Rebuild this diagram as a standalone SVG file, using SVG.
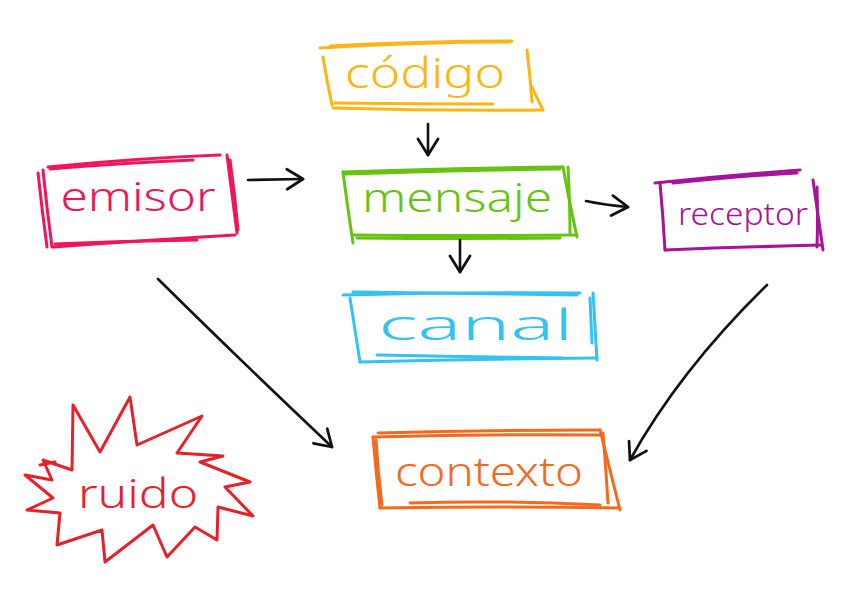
<svg xmlns="http://www.w3.org/2000/svg" width="848" height="599" viewBox="0 0 848 599">
<defs>
<marker id="ah" markerUnits="userSpaceOnUse" viewBox="0 0 20 24" markerWidth="20" markerHeight="24" refX="18" refY="12" orient="auto">
<path d="M2,2 L18,12 L2,22" fill="none" stroke="#111" stroke-width="2.8" stroke-linecap="round" stroke-linejoin="round"/>
</marker>
</defs>
<style>
.sk{fill:none;stroke-width:3;stroke-linecap:round;stroke-linejoin:round}
.lbl{font-family:"Noto Sans","DejaVu Sans",sans-serif;font-weight:300;text-anchor:middle}
.cn{fill:none;stroke:#111;stroke-width:2.6;stroke-linecap:round}
</style>
<rect width="848" height="599" fill="#fff"/>

<g id="codigo">
<g class="sk" stroke="#FDB515">
<path d="M320,48 Q420,42 510,42"/>
<path d="M330,46 Q430,41 512,41"/>
<path d="M323,57 Q327,82 332,105"/>
<path d="M527,50 Q530,75 532,102"/>
<path d="M532,87 Q537,98 543,110"/>
<path d="M333,108 Q440,111 543,110"/>
<path d="M335,103 Q415,104 493,104"/>
</g>
<text class="lbl" x="425" y="88" font-size="42" fill="#FDB515" textLength="160" lengthAdjust="spacingAndGlyphs">código</text>
</g>

<g id="emisor">
<g class="sk" stroke="#F0145A">
<path d="M48,167 Q140,158 220,155"/>
<path d="M50,169 Q120,163 193,160"/>
<path d="M38,173 Q42,210 47,247"/>
<path d="M43,170 Q47,210 52,247"/>
<path d="M227,155 Q232,195 237,233"/>
<path d="M230,160 Q235,195 238,230"/>
<path d="M53,247 Q150,240 235,235"/>
<path d="M55,244 Q120,241 197,240"/>
</g>
<text class="lbl" x="138" y="211" font-size="40" fill="#F0145A" textLength="155" lengthAdjust="spacingAndGlyphs">emisor</text>
</g>

<g id="mensaje">
<g class="sk" stroke="#66C410">
<path d="M343,172 Q450,168 563,167"/>
<path d="M345,174 Q460,170 560,169"/>
<path d="M343,172 Q348,210 353,243"/>
<path d="M563,167 Q570,205 577,237"/>
<path d="M568,167 Q570,205 570,233"/>
<path d="M353,235 Q460,236 577,235"/>
<path d="M357,238 Q460,239 560,238"/>
</g>
<text class="lbl" x="457" y="212" font-size="40" fill="#66C410" textLength="190" lengthAdjust="spacingAndGlyphs">mensaje</text>
</g>

<g id="receptor">
<g class="sk" stroke="#A8129A">
<path d="M655,183 Q730,175 800,170"/>
<path d="M673,183 Q740,176 797,173"/>
<path d="M660,183 Q663,215 665,250"/>
<path d="M665,250 Q740,247 822,245"/>
<path d="M813,180 Q818,215 823,250"/>
<path d="M817,187 Q818,220 817,247"/>
</g>
<text class="lbl" x="743" y="225" font-size="32" fill="#A8129A" textLength="130" lengthAdjust="spacingAndGlyphs">receptor</text>
</g>

<g id="canal">
<g class="sk" stroke="#33C3F2">
<path d="M343,295 Q460,292 580,293"/>
<path d="M353,292 Q470,294 577,295"/>
<path d="M350,298 Q355,330 360,362"/>
<path d="M360,362 Q480,359 597,358"/>
<path d="M377,355 Q470,357 563,358"/>
<path d="M593,293 Q595,325 597,360"/>
<path d="M590,298 Q591,320 592,343"/>
</g>
<text class="lbl" x="476" y="340" font-size="42" fill="#33C3F2" textLength="195" lengthAdjust="spacingAndGlyphs">canal</text>
</g>

<g id="contexto">
<g class="sk" stroke="#F4691C">
<path d="M378,433 Q490,430 600,430"/>
<path d="M373,437 Q490,434 600,435"/>
<path d="M373,437 Q376,472 380,508"/>
<path d="M376,440 Q378,472 382,505"/>
<path d="M380,508 Q500,506 620,508"/>
<path d="M410,503 Q500,500 600,505"/>
<path d="M600,430 Q610,470 620,510"/>
<path d="M603,433 Q606,470 608,503"/>
</g>
<text class="lbl" x="489" y="486" font-size="40" fill="#F4691C" textLength="188" lengthAdjust="spacingAndGlyphs">contexto</text>
</g>

<g id="ruido">
<path class="sk" stroke="#E8202A" stroke-width="2.6" d="M73,405 L100,452 L130,397 L137,445 L202,416 L177,453 L223,456 L200,462 L250,482 L225,487 L253,516 L218,507 L217,540 L195,527 L167,557 L153,525 L105,562 L102,530 L57,545 L60,513 L27,510 L53,498 L25,475 L52,480 L43,460 L72,470 Z"/>
<path class="sk" stroke="#E8202A" stroke-width="2.6" d="M40,465 L55,462"/>
<text class="lbl" x="138" y="508" font-size="40" fill="#E8202A" textLength="120" lengthAdjust="spacingAndGlyphs">ruido</text>
</g>

<g id="connectors">
<path class="cn" d="M428,124 L428,155" marker-end="url(#ah)"/>
<path class="cn" d="M248,180 L303,179" marker-end="url(#ah)"/>
<path class="cn" d="M586,201 Q605,205 628,207" marker-end="url(#ah)"/>
<path class="cn" d="M460,240 L460,272" marker-end="url(#ah)"/>
<path class="cn" d="M158,279 Q240,360 332,447" marker-end="url(#ah)"/>
<path class="cn" d="M767,285 Q680,370 630,460" marker-end="url(#ah)"/>
</g>
</svg>
